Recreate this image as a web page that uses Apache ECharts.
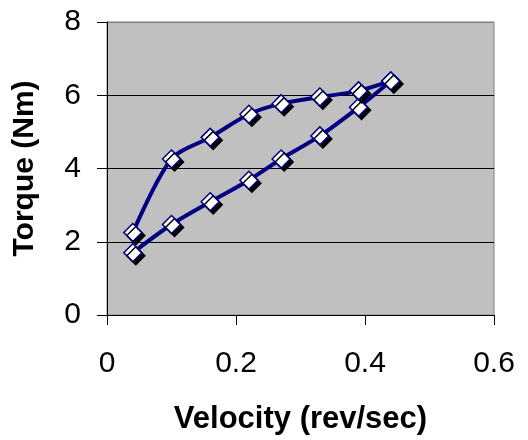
<!DOCTYPE html>
<html>
<head>
<meta charset="utf-8">
<script src="https://cdn.jsdelivr.net/npm/echarts@6/dist/echarts.min.js"></script>
<style>html,body{margin:0;padding:0;background:#fff}#c{width:528px;height:440px}</style>
</head>
<body>
<div id="c"></div>
<script>
var velocityLower = [0.04, 0.10, 0.16, 0.22, 0.27, 0.33, 0.39, 0.44];
var torqueLower   = [1.70, 2.47, 3.09, 3.68, 4.26, 4.89, 5.67, 6.39];
var velocityUpper = [0.04, 0.10, 0.16, 0.22, 0.27, 0.33, 0.39, 0.44];
var torqueUpper   = [2.25, 4.26, 4.85, 5.48, 5.77, 5.95, 6.12, 6.39];
var xTicks = [0, 0.2, 0.4, 0.6];
var yTicks = [0, 2, 4, 6, 8];
var xTitle = 'Velocity (rev/sec)';
var yTitle = 'Torque (Nm)';

function pairs(xs, ys){ return xs.map(function(x,i){ return [x, ys[i]]; }); }

var font = 'Liberation Sans, Arial, sans-serif';
var seriesStyle = {
  type: 'line',
  smooth: 0.3,
  symbol: 'diamond',
  symbolSize: 18,
  lineStyle: { color: '#000080', width: 4 },
  itemStyle: { color: '#ffffff', borderColor: '#000080', borderWidth: 1.5,
    shadowColor: '#000', shadowBlur: 0, shadowOffsetX: 3, shadowOffsetY: 3 },
  emphasis: { disabled: true },
  animation: false
};

var chart = echarts.init(document.getElementById('c'), null, {renderer: 'canvas'});
chart.setOption({
  animation: false,
  grid: { left: 107, right: 34, top: 22, bottom: 125, show: true, containLabel: false,
    outerBoundsMode: 'none',
    backgroundColor: '#c0c0c0', borderColor: '#808080', borderWidth: 1 },
  xAxis: {
    type: 'value', min: xTicks[0], max: xTicks[xTicks.length-1], interval: 0.2,
    name: xTitle, nameLocation: 'middle', nameGap: 89,
    nameTextStyle: { fontFamily: font, fontWeight: 'bold', fontSize: 31, color: '#000' },
    axisLine: { show: true, onZero: false, lineStyle: { color: '#000', width: 1 } },
    axisTick: { show: true, length: 10, lineStyle: { color: '#000' } },
    axisLabel: { margin: 34, fontFamily: font, fontSize: 30, color: '#000',
      formatter: function(v){ return String(Math.round(v*10)/10); } },
    splitLine: { show: false }
  },
  yAxis: {
    type: 'value', min: yTicks[0], max: yTicks[yTicks.length-1], interval: 2,
    name: yTitle, nameLocation: 'middle', nameGap: 67, nameRotate: 90,
    nameTextStyle: { fontFamily: font, fontWeight: 'bold', fontSize: 30, color: '#000' },
    axisLine: { show: true, onZero: false, lineStyle: { color: '#000', width: 1 } },
    axisTick: { show: true, length: 10, lineStyle: { color: '#000' } },
    axisLabel: { margin: 26, fontFamily: font, fontSize: 30, color: '#000' },
    splitLine: { show: true, lineStyle: { color: ['#000','#000','#000','#000','#808080'], width: 1 } }
  },
  series: [
    Object.assign({ name: 'lower', data: pairs(velocityLower, torqueLower) }, seriesStyle),
    Object.assign({ name: 'upper', data: pairs(velocityUpper, torqueUpper) }, seriesStyle)
  ]
});
</script>
</body>
</html>
